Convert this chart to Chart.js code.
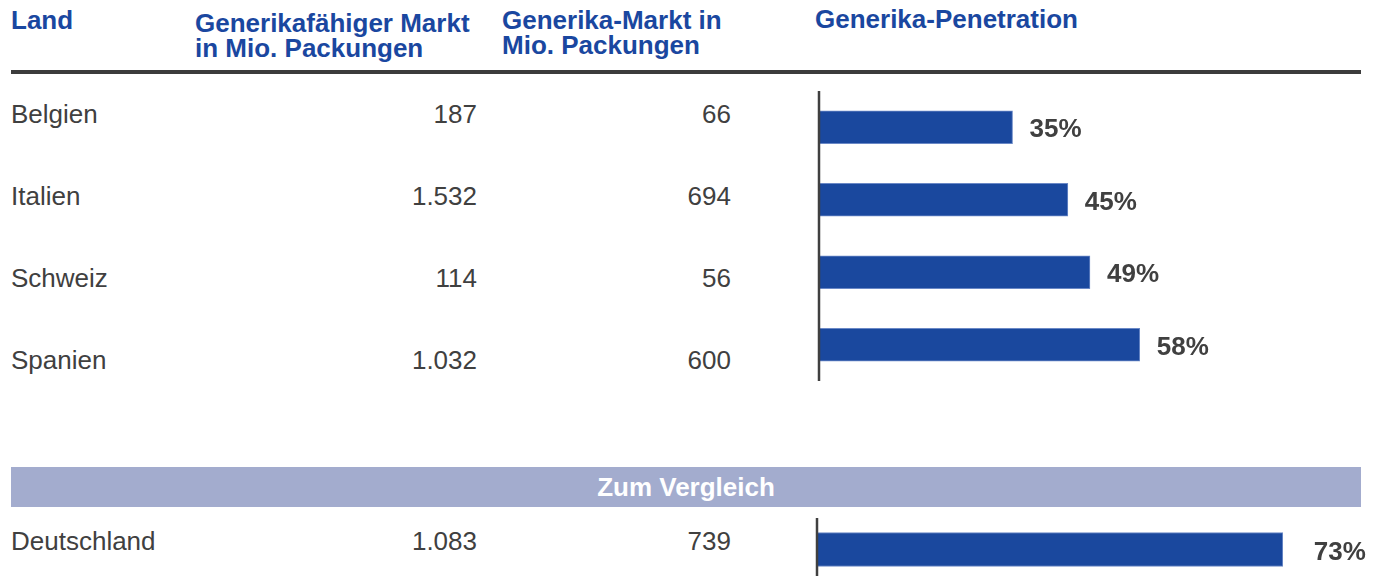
<!DOCTYPE html>
<html>
<head>
<meta charset="utf-8">
<script src="https://cdn.jsdelivr.net/npm/chart.js@4.4.1/dist/chart.umd.min.js"></script>
<style>
  html, body { margin: 0; padding: 0; background: #fff; overflow: hidden; width: 1379px; height: 576px; }
  body { position: relative; font-family: "Liberation Sans", Arial, sans-serif; }
  .t { position: absolute; white-space: nowrap; font-size: 26px; line-height: 26px; color: #404040; }
  .h { color: #1a47a0; font-weight: bold; }
  .r { text-align: right; }
  #rule { position: absolute; left: 11px; top: 70px; width: 1350px; height: 4px; background: #3c3c3c; }
  #banner { position: absolute; left: 11px; top: 467px; width: 1350px; height: 40px; background: #a3acce;
            color: #fff; font-weight: bold; font-size: 26px; line-height: 40px; text-align: center; }
  canvas { position: absolute; }
</style>
</head>
<body>
<div id="rule"></div>
<div id="banner"></div>
<canvas id="top" width="562" height="290" style="left:810px; top:91px; width:562px; height:290px;"></canvas>
<canvas id="bottom" width="648" height="63" style="left:807px; top:518px; width:648px; height:63px;"></canvas>
<script>
// ---- data ----
const headers = ['Land', 'Generikafähiger Markt\nin Mio. Packungen', 'Generika-Markt in\nMio. Packungen', 'Generika-Penetration'];
const countries = ['Belgien', 'Italien', 'Schweiz', 'Spanien'];
const genericableMarket = [187, 1532, 114, 1032];
const genericMarket = [66, 694, 56, 600];
const penetration = [35, 45, 49, 58];
const compareTitle = 'Zum Vergleich';
const compareCountries = ['Deutschland'];
const compareGenericableMarket = [1083];
const compareGenericMarket = [739];
const comparePenetration = [73];

// ---- table text ----
const fmt = v => v.toLocaleString('de-DE');
function place(text, x, baseline, cls, align) {
  const d = document.createElement('div');
  d.className = 't ' + (cls || '');
  d.textContent = text;
  const top = baseline - 22; // 26px font, 26px line-height
  d.style.top = top + 'px';
  if (align === 'right') { d.style.right = (1379 - x) + 'px'; d.classList.add('r'); }
  else d.style.left = x + 'px';
  document.body.appendChild(d);
}
// headers
const headerX = [11, 195, 502, 815];
const headerBase = [29, 32, 29, 28];
const headerLine = [26, 25, 25, 26];
headers.forEach((h, i) => {
  h.split('\n').forEach((line, j) => place(line, headerX[i], headerBase[i] + j * headerLine[i], 'h'));
});
// rows
const rowBase = [123, 205, 287, 369];
countries.forEach((c, i) => {
  place(c, 11, rowBase[i]);
  place(fmt(genericableMarket[i]), 477, rowBase[i], '', 'right');
  place(fmt(genericMarket[i]), 731, rowBase[i], '', 'right');
});
document.getElementById('banner').textContent = compareTitle;
compareCountries.forEach((c, i) => {
  place(c, 11, 550 + i * 82);
  place(fmt(compareGenericableMarket[i]), 477, 550 + i * 82, '', 'right');
  place(fmt(compareGenericMarket[i]), 731, 550 + i * 82, '', 'right');
});

// ---- charts ----
const BAR = '#1a489e';
function makePlugin(labelGap) {
  return {
    id: 'axisAndLabels',
    afterDatasetsDraw(chart) {
      const ctx = chart.ctx, area = chart.chartArea, xs = chart.scales.x;
      ctx.save();
      ctx.strokeStyle = '#404040';
      ctx.lineWidth = 2.5;
      const x0 = xs.getPixelForValue(0);
      ctx.beginPath();
      ctx.moveTo(x0, area.top);
      ctx.lineTo(x0, area.bottom);
      ctx.stroke();
      ctx.fillStyle = '#404040';
      ctx.font = 'bold 26px "Liberation Sans", Arial, sans-serif';
      ctx.textAlign = 'left';
      ctx.textBaseline = 'alphabetic';
      const meta = chart.getDatasetMeta(0);
      meta.data.forEach((bar, i) => {
        const v = chart.data.datasets[0].data[i];
        ctx.fillText(v + '%', bar.x + labelGap, bar.y + 10);
      });
      ctx.restore();
    }
  };
}
function makeChart(id, labels, values, thickness, padLeft, gap) {
  return new Chart(document.getElementById(id), {
    type: 'bar',
    data: {
      labels: labels,
      datasets: [{
        data: values,
        backgroundColor: BAR,
        borderColor: '#6a88c6',
        borderWidth: 1,
        borderSkipped: 'left',
        barThickness: thickness
      }]
    },
    options: {
      indexAxis: 'y',
      responsive: false,
      animation: false,
      devicePixelRatio: 1,
      layout: { padding: { left: padLeft, right: 0, top: 0, bottom: 0 } },
      scales: {
        x: { display: false, min: 0, max: 100 },
        y: { display: false }
      },
      plugins: { legend: { display: false }, tooltip: { enabled: false } }
    },
    plugins: [makePlugin(gap)]
  });
}
makeChart('top', countries, penetration, 33, 9, 17);
makeChart('bottom', compareCountries, comparePenetration, 34, 10, 31);
</script>
</body>
</html>
